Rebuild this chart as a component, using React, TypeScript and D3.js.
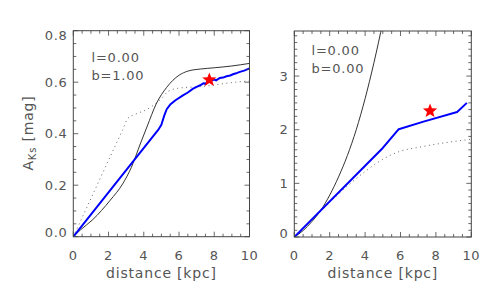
import React from "react";
import * as d3 from "d3";

// ---- data (distance kpc, A_Ks mag) ----
const leftBlack: [number, number][] = [
  [0, 0], [0.4, 0.026], [1.1, 0.066], [2.1, 0.142], [2.8, 0.205], [3.3, 0.27], [3.8, 0.36],
  [4.2, 0.43], [4.7, 0.515], [5.3, 0.58], [6.0, 0.627], [6.5, 0.643], [7.2, 0.651],
  [8, 0.656], [9, 0.663], [10, 0.673],
];
const leftDotted: [number, number][] = [
  [0, 0], [1, 0.148], [2, 0.297], [2.8, 0.415], [3.1, 0.46], [3.5, 0.475], [4.2, 0.495],
  [4.9, 0.53], [5.4, 0.565], [5.9, 0.576], [7.4, 0.584], [9.2, 0.6], [10, 0.605],
];
const leftBlue: [number, number][] = [
  [0, 0], [4.85, 0.418], [5.0, 0.435], [5.15, 0.468], [5.3, 0.495], [5.5, 0.513], [5.8, 0.53],
  [6.2, 0.548], [6.5, 0.56], [6.8, 0.575], [7.0, 0.582], [7.2, 0.588], [7.4, 0.596],
  [7.5, 0.593], [7.6, 0.602], [7.8, 0.605], [8.0, 0.61], [8.1, 0.607], [8.3, 0.616],
  [8.5, 0.618], [8.7, 0.623], [8.9, 0.626], [9.1, 0.632], [9.3, 0.636], [9.5, 0.641],
  [9.7, 0.645], [10, 0.654],
];
const leftStar: [number, number] = [7.72, 0.609];

const rightBlack: [number, number][] = [
  [0, 0], [0.5, 0.12], [1.0, 0.29], [1.5, 0.5], [2, 0.78], [2.5, 1.12], [3, 1.52],
  [3.5, 2.0], [4, 2.58], [4.5, 3.25], [5, 4.0],
];
const rightDotted: [number, number][] = [
  [0, 0], [1, 0.33], [2, 0.65], [3, 0.95], [4, 1.22], [5, 1.45], [6, 1.6], [7, 1.67],
  [8, 1.73], [9, 1.78], [10, 1.82],
];
const rightBlue: [number, number][] = [
  [0, 0], [5.0, 1.66], [5.9, 2.01], [7.3, 2.15], [9.2, 2.33], [9.75, 2.5],
];
const rightStar: [number, number] = [7.67, 2.35];

const xTicks = [0, 2, 4, 6, 8, 10];
const leftYTicks = [0, 0.2, 0.4, 0.6, 0.8];
const rightYTicks = [0, 1, 2, 3];
const leftLabels = ["l=0.00", "b=1.00"];
const rightLabels = ["l=0.00", "b=0.00"];

const FONT = "DejaVu Sans, sans-serif";
const TXT = "#555";
const AX = "#444";

function starPath(cx: number, cy: number, R: number, r: number) {
  const pts: string[] = [];
  for (let i = 0; i < 10; i++) {
    const a = -Math.PI / 2 + (i * Math.PI) / 5;
    const rad = i % 2 === 0 ? R : r;
    pts.push(`${cx + rad * Math.cos(a)},${cy + rad * Math.sin(a)}`);
  }
  return "M" + pts.join("L") + "Z";
}

type PanelProps = {
  x0: number; x1: number; y0: number; y1: number;
  yMax: number; yTicks: number[]; yMinor: number; yFmt: (v: number) => string;
  black: [number, number][]; dotted: [number, number][]; blue: [number, number][];
  star: [number, number]; labels: string[]; labelX: number; labelY: number;
  clipId: string;
};

function Panel(p: PanelProps) {
  const xs = d3.scaleLinear().domain([0, 10]).range([p.x0, p.x1]);
  const ys = d3.scaleLinear().domain([0, p.yMax]).range([p.y1, p.y0]);
  const smooth = d3.line<[number, number]>().x(d => xs(d[0])).y(d => ys(d[1])).curve(d3.curveMonotoneX);
  const lin = d3.line<[number, number]>().x(d => xs(d[0])).y(d => ys(d[1]));
  const xMinor = d3.range(0, 10.001, 0.5);
  const yMinor = d3.range(0, p.yMax + 1e-6, p.yMinor);
  const isMajX = (v: number) => Math.abs(v / 2 - Math.round(v / 2)) < 1e-6;
  const isMajY = (v: number) => p.yTicks.some(t => Math.abs(t - v) < 1e-6);
  const MJ = 5, MN = 3;
  return (
    <g>
      <defs>
        <clipPath id={p.clipId}>
          <rect x={p.x0} y={p.y0} width={p.x1 - p.x0} height={p.y1 - p.y0} />
        </clipPath>
      </defs>
      <g clipPath={`url(#${p.clipId})`}>
        <path d={smooth(p.dotted) || ""} fill="none" stroke="#666" strokeWidth={1} strokeDasharray="1,3.5" />
        <path d={smooth(p.black) || ""} fill="none" stroke="#333" strokeWidth={1} />
        <path d={lin(p.blue) || ""} fill="none" stroke="#0000ff" strokeWidth={2} strokeLinejoin="round" />
      </g>
      <path d={starPath(xs(p.star[0]), ys(p.star[1]), 7.5, 3.2)} fill="#ff0000" />
      <rect x={p.x0} y={p.y0} width={p.x1 - p.x0} height={p.y1 - p.y0} fill="none" stroke={AX} strokeWidth={1} />
      {xMinor.map((v, i) => {
        const L = isMajX(v) ? MJ : MN;
        const X = xs(v);
        return (
          <g key={"xt" + i}>
            <line x1={X} x2={X} y1={p.y1} y2={p.y1 - L} stroke={AX} strokeWidth={0.8} />
            <line x1={X} x2={X} y1={p.y0} y2={p.y0 + L} stroke={AX} strokeWidth={0.8} />
          </g>
        );
      })}
      {yMinor.map((v, i) => {
        const L = isMajY(v) ? MJ : MN;
        const Y = ys(v);
        return (
          <g key={"yt" + i}>
            <line x1={p.x0} x2={p.x0 + L} y1={Y} y2={Y} stroke={AX} strokeWidth={0.8} />
            <line x1={p.x1} x2={p.x1 - L} y1={Y} y2={Y} stroke={AX} strokeWidth={0.8} />
          </g>
        );
      })}
      {xTicks.map(v => (
        <text key={"xl" + v} x={xs(v)} y={260} textAnchor="middle" fontFamily={FONT} fontSize={13}
          fill={TXT} letterSpacing={0.6}>{v}</text>
      ))}
      {p.yTicks.map((v, i) => {
        let off = 0;
        if (i === 0) off = -4;
        if (v === p.yMax) off = 5;
        return (
          <text key={"yl" + v} x={p.x0 - 6} y={ys(v) + 4.7 + off} textAnchor="end" fontFamily={FONT}
            fontSize={13} fill={TXT} letterSpacing={0.6}>{p.yFmt(v)}</text>
        );
      })}
      <text x={(p.x0 + p.x1) / 2} y={278} textAnchor="middle" fontFamily={FONT} fontSize={14}
        fill={TXT} letterSpacing={0.8}>distance [kpc]</text>
      {p.labels.map((s, i) => (
        <text key={"lab" + i} x={p.labelX} y={p.labelY + i * 18} fontFamily={FONT} fontSize={13}
          fill={TXT} letterSpacing={0.8}>{s}</text>
      ))}
    </g>
  );
}

export default function App() {
  return (
    <svg width={491} height={286} style={{ position: "absolute", left: 0, top: 0, background: "#fff" }}>
      <rect width={491} height={286} fill="#fff" />
      <Panel x0={73.3} x1={249.5} y0={30.7} y1={236.7} yMax={0.8} yTicks={leftYTicks} yMinor={0.05}
        yFmt={v => v.toFixed(1)} black={leftBlack} dotted={leftDotted} blue={leftBlue}
        star={leftStar} labels={leftLabels} labelX={91.5} labelY={62} clipId="clipL" />
      <Panel x0={294.3} x1={471.3} y0={31} y1={237} yMax={3.84} yTicks={rightYTicks} yMinor={0.125}
        yFmt={v => String(v)} black={rightBlack} dotted={rightDotted} blue={rightBlue}
        star={rightStar} labels={rightLabels} labelX={311.5} labelY={55} clipId="clipR" />
      <text transform="translate(33,133) rotate(-90)" textAnchor="middle" fontFamily={FONT} fontSize={14}
        fill={TXT} letterSpacing={0.8}>
        A<tspan fontSize={10} dy={3}>Ks</tspan><tspan dy={-3}> [mag]</tspan>
      </text>
    </svg>
  );
}
